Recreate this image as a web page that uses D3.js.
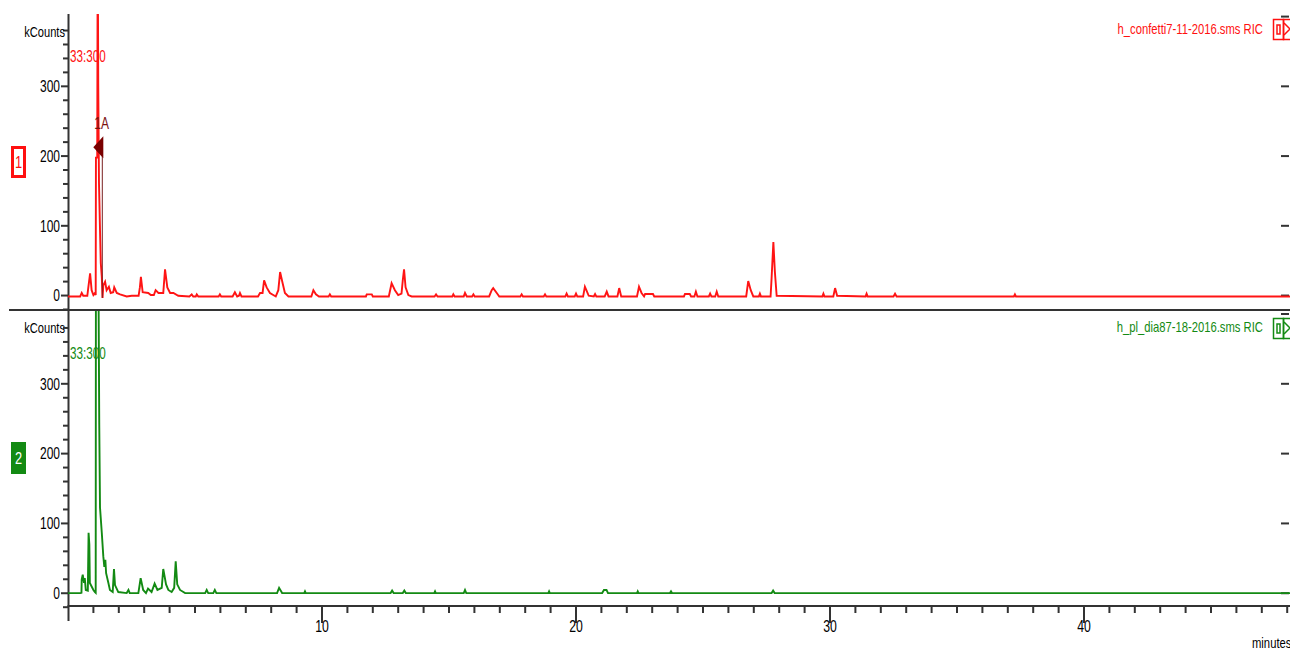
<!DOCTYPE html>
<html><head><meta charset="utf-8">
<script src="https://cdn.jsdelivr.net/npm/d3@7"></script>
<style>
body{margin:0;background:#fff;overflow:hidden}
svg{display:block}
text{font-family:"Liberation Sans",Arial,sans-serif}
</style>
</head><body>
<svg id="c" width="1290" height="650"></svg>
<script>
// ---- data (minutes, kCounts) ----
const redTime = [0,0.5,0.56,0.62,0.78,0.82,0.89,0.95,1.02,1.08,1.11,1.12,1.17,1.19,1.21,1.24,1.28,1.31,1.35,1.38,1.41,1.48,1.54,1.63,1.70,1.80,1.84,1.94,2.07,2.33,2.53,2.80,2.85,2.89,2.96,3.18,3.28,3.40,3.47,3.58,3.77,3.84,3.93,4.04,4.17,4.36,4.8,4.89,4.95,5.05,5.09,5.15,5.95,6.0,6.05,6.5,6.59,6.68,6.75,6.79,6.85,7.5,7.58,7.68,7.74,7.84,7.97,8.2,8.3,8.37,8.47,8.56,8.7,9.6,9.68,9.78,9.9,10.28,10.33,10.38,11.75,11.78,11.98,12.02,12.65,12.76,12.89,13.02,13.15,13.2,13.25,13.31,13.42,13.55,14.45,14.51,14.57,15.15,15.19,15.24,15.6,15.65,15.72,15.93,15.98,16.03,16.6,16.7,16.76,16.9,17.0,17.83,17.88,17.93,18.75,18.8,18.85,19.6,19.65,19.7,19.97,20.02,20.07,20.3,20.37,20.44,20.52,20.72,20.77,20.82,21.15,21.23,21.3,21.65,21.72,21.8,22.42,22.5,22.6,22.7,22.74,23.05,23.1,24.27,24.31,24.5,24.55,24.68,24.74,24.8,25.25,25.3,25.35,25.5,25.56,25.62,26.72,26.8,26.9,27.0,27.22,27.26,27.3,27.68,27.72,27.79,27.85,27.92,29.72,29.76,29.8,30.15,30.22,30.3,31.42,31.46,31.5,32.52,32.58,32.64,37.26,37.3,37.34,48.5];
const redCounts = [-2,-2,3,-1,-1,11,31,7,0,3,0,197,197,520,304,160,93,46,26,-4,14,19,7,12,3,4,11,3,1,-2,-1,-1,11,26,4,3,0,0,7,3,3,37,11,3,3,-1,-2,1,-2,-2,1,-2,-2,1,-2,-2,4,-2,-1,3,-2,-2,3,3,21,11,3,-2,7,33,17,3,-2,-2,7,1,-2,-2,1,-2,-2,1,1,-2,-2,17,7,0,2,21,37,11,0,-2,-2,1,-2,-2,1,-2,-2,3,-2,-2,1,-2,-2,7,10,3,-2,-2,1,-2,-2,1,-2,-2,2,-2,-2,2,-2,-2,12,6,-1,-2,1.5,-2,-2,5,-2,-2,10,-2,-2,12,3,-2,1.5,1.5,-2,-2,1.5,1.5,-2,-2,5,-2,-2,2,-2,-2,5,-2,-2,20,7,-2,-2,2,-2,-2,24,76,33,-1,-2,2,-2,-2,10,-1,-2,2,-2,-2,2,-2,-2,1,-2,-2];

const greenTime = [0,0.5,0.55,0.56,0.6,0.65,0.68,0.72,0.8,0.83,0.86,0.88,0.95,1.02,1.08,1.11,1.12,1.21,1.25,1.28,1.35,1.41,1.45,1.49,1.52,1.61,1.67,1.78,1.83,1.87,2.0,2.33,2.40,2.45,2.79,2.88,2.98,3.09,3.17,3.31,3.43,3.54,3.71,3.77,3.88,3.97,4.10,4.20,4.26,4.32,4.43,4.63,5.42,5.48,5.54,5.74,5.8,5.86,8.25,8.33,8.45,9.32,9.35,9.38,12.72,12.78,12.84,13.2,13.26,13.32,14.44,14.47,14.5,15.6,15.65,15.7,18.93,18.96,18.99,21.05,21.12,21.22,21.28,22.42,22.45,22.48,23.72,23.76,23.8,27.72,27.78,27.84,48.5];
const greenCounts = [-0.5,-0.5,0,19,26,14,21,4,3,86,69,14,9,4,1,0,520,520,241,122,86,52,37,47,28,14,4,1,34,11,1,-0.5,4,-0.5,-0.5,21,4,-0.5,6,1,13,4,7,34,12,4,1,7,45,12,4,-0.5,-0.5,4,-0.5,-0.5,4,-0.5,-0.5,7,-0.5,-0.5,2,-0.5,-0.5,3,-0.5,-0.5,3,-0.5,-0.5,2,-0.5,-0.5,4,-0.5,-0.5,2,-0.5,-0.5,4,4,-0.5,-0.5,2,-0.5,-0.5,2,-0.5,-0.5,3,-0.5,-0.5];

const xMajorTicks = [10,20,30,40];
const yMajorTicks = [0,100,200,300];
const yRightTicks = [0,100,200,300,400];
const panelTitles = ["h_confetti7-11-2016.sms RIC","h_pl_dia87-18-2016.sms RIC"];
const panelIds = ["1","2"];
const massLabel = "33:300";
const peakLabel = "1A";
const peakMark = {time:1.37, counts:212};

// ---- layout ----
const svg = d3.select("#c");
const axisColor = "#333";
const x = d3.scaleLinear().domain([0,48.11]).range([67.5,1289.5]);
const yTop = d3.scaleLinear().domain([-20,403]).range([309,14]);
const yBot = d3.scaleLinear().domain([-19,405]).range([606,310]);
const xMinor = d3.range(1,49).filter(d=>d%10!==0);
const yMinor = d3.range(-20,401,20).filter(d=>d%100!==0);

// narrow-font emulation: compress glyphs horizontally
function condense(sel, f){
  sel.each(function(){
    const t = d3.select(this);
    const L = this.getComputedTextLength();
    const anchor = t.attr("text-anchor") || getComputedStyle(this).textAnchor || "start";
    const nl = L*f;
    const x0 = +(t.attr("x")||0);
    let nx = x0;
    if(anchor==="end") nx = x0 - nl; else if(anchor==="middle") nx = x0 - nl/2;
    t.attr("text-anchor","start").style("text-anchor","start").attr("x",nx)
     .attr("textLength",nl).attr("lengthAdjust","spacingAndGlyphs");
  });
}

const defs = svg.append("defs");
defs.append("clipPath").attr("id","clipTop").append("rect").attr("x",68).attr("y",14).attr("width",1222).attr("height",296);
defs.append("clipPath").attr("id","clipBot").append("rect").attr("x",68).attr("y",311).attr("width",1222).attr("height",295);

svg.append("line").attr("x1",9).attr("x2",1290).attr("y1",310).attr("y2",310).attr("stroke",axisColor).attr("stroke-width",2);
svg.append("line").attr("x1",67.5).attr("x2",1290).attr("y1",606).attr("y2",606).attr("stroke",axisColor).attr("stroke-width",2);
svg.append("line").attr("x1",68.5).attr("x2",68.5).attr("y1",14).attr("y2",621).attr("stroke",axisColor).attr("stroke-width",2);

function styleAxis(g){
  g.select(".domain").remove();
  g.attr("font-family",null).attr("font-size",null);
  g.selectAll(".tick line").attr("stroke",axisColor).attr("stroke-width",2);
  g.selectAll("text").attr("fill","#000").style("font-size","16px");
}

function yAxes(y){
  svg.append("g").attr("transform","translate(69,0)")
    .call(d3.axisLeft(y).tickValues(yMinor).tickSize(6).tickFormat(""))
    .call(styleAxis);
  const g = svg.append("g").attr("transform","translate(69,0)")
    .call(d3.axisLeft(y).tickValues(yMajorTicks).tickSize(8).tickPadding(1).tickFormat(d3.format("d")))
    .call(styleAxis);
  g.selectAll("text").attr("x",-9).attr("dy","0.36em");
  condense(g.selectAll("text"),0.75);
  svg.append("g").attr("transform","translate(1281,0)")
    .call(d3.axisRight(y).tickValues(yRightTicks).tickSize(8).tickFormat(""))
    .call(styleAxis);
}
yAxes(yTop);
yAxes(yBot);

svg.append("g").attr("transform","translate(0,606)")
  .call(d3.axisBottom(x).tickValues(xMinor).tickSize(7).tickFormat(""))
  .call(styleAxis);
const xg = svg.append("g").attr("transform","translate(0,606)")
  .call(d3.axisBottom(x).tickValues(xMajorTicks).tickSize(17).tickFormat(d3.format("d")))
  .call(styleAxis);
xg.selectAll("text").attr("x",0).attr("y",26).attr("dy",0).attr("text-anchor","middle").style("font-size","17px");
condense(xg.selectAll("text"),0.72);

condense(svg.append("text").attr("x",1252).attr("y",648).text("minutes").style("font-size","15px").attr("fill","#000"),0.75);

// traces
const lineTop = d3.line().x((d,i)=>x(redTime[i])).y((d,i)=>yTop(redCounts[i]));
const lineBot = d3.line().x((d,i)=>x(greenTime[i])).y((d,i)=>yBot(greenCounts[i]));
svg.append("path").attr("d",lineTop(redTime)).attr("clip-path","url(#clipTop)")
  .attr("fill","none").attr("stroke","#ff1414").attr("stroke-width",1.9).attr("stroke-linejoin","miter");
svg.append("path").attr("d",lineBot(greenTime)).attr("clip-path","url(#clipBot)")
  .attr("fill","none").attr("stroke","#138a13").attr("stroke-width",1.9).attr("stroke-linejoin","miter");

// peak marker
const pmx = x(peakMark.time), pmy = yTop(peakMark.counts);
svg.append("line").attr("x1",pmx).attr("x2",pmx).attr("y1",pmy).attr("y2",yTop(-4))
  .attr("stroke","#7a2020").attr("stroke-width",1);
svg.append("path").attr("d",`M${pmx-9},${pmy} L${pmx+1},${pmy-11} L${pmx+1},${pmy+11} Z`).attr("fill","#7a0000");
condense(svg.append("text").attr("x",pmx-8).attr("y",pmy-18).text(peakLabel).attr("fill","#7a1010").style("font-size","16px"),0.75);

// panel decorations
const panels = [
  {color:"#ff1010", titleY:34, kY:37, massY:62, boxY:146, filled:false, iconY:19},
  {color:"#138a13", titleY:332, kY:333, massY:359, boxY:442, filled:true, iconY:318}
];
panels.forEach((p,i)=>{
  condense(svg.append("text").attr("x",65).attr("y",p.kY).attr("text-anchor","end").text("kCounts").attr("fill","#000").style("font-size","15px"),0.74);
  condense(svg.append("text").attr("x",70).attr("y",p.massY).text(massLabel).attr("fill",p.color).style("font-size","16px"),0.73);
  condense(svg.append("text").attr("x",1263).attr("y",p.titleY).attr("text-anchor","end").text(panelTitles[i]).attr("fill",p.color).style("font-size","15px"),0.75);
  svg.append("rect").attr("x",12.5).attr("y",p.boxY+1.5).attr("width",12).attr("height",29)
    .attr("fill",p.filled?p.color:"#fff").attr("stroke",p.color).attr("stroke-width",3);
  condense(svg.append("text").attr("x",18.5).attr("y",p.boxY+22).attr("text-anchor","middle").text(panelIds[i])
    .attr("fill",p.filled?"#fff":p.color).style("font-size","16px"),0.8);
  svg.append("rect").attr("x",1273.5).attr("y",p.iconY+0.5).attr("width",10).attr("height",20).attr("fill","none").attr("stroke",p.color).attr("stroke-width",1.5);
  svg.append("rect").attr("x",1277).attr("y",p.iconY+6).attr("width",3).attr("height",9).attr("fill","none").attr("stroke",p.color).attr("stroke-width",1.5);
  svg.append("rect").attr("x",1283.5).attr("y",p.iconY+0.5).attr("width",10).attr("height",20).attr("fill","none").attr("stroke",p.color).attr("stroke-width",1.5);
  svg.append("path").attr("d",`M1284,${p.iconY+4} L1290,${p.iconY+10} L1284,${p.iconY+16}`).attr("fill","none").attr("stroke",p.color).attr("stroke-width",1.5);
});
</script>
</body></html>
